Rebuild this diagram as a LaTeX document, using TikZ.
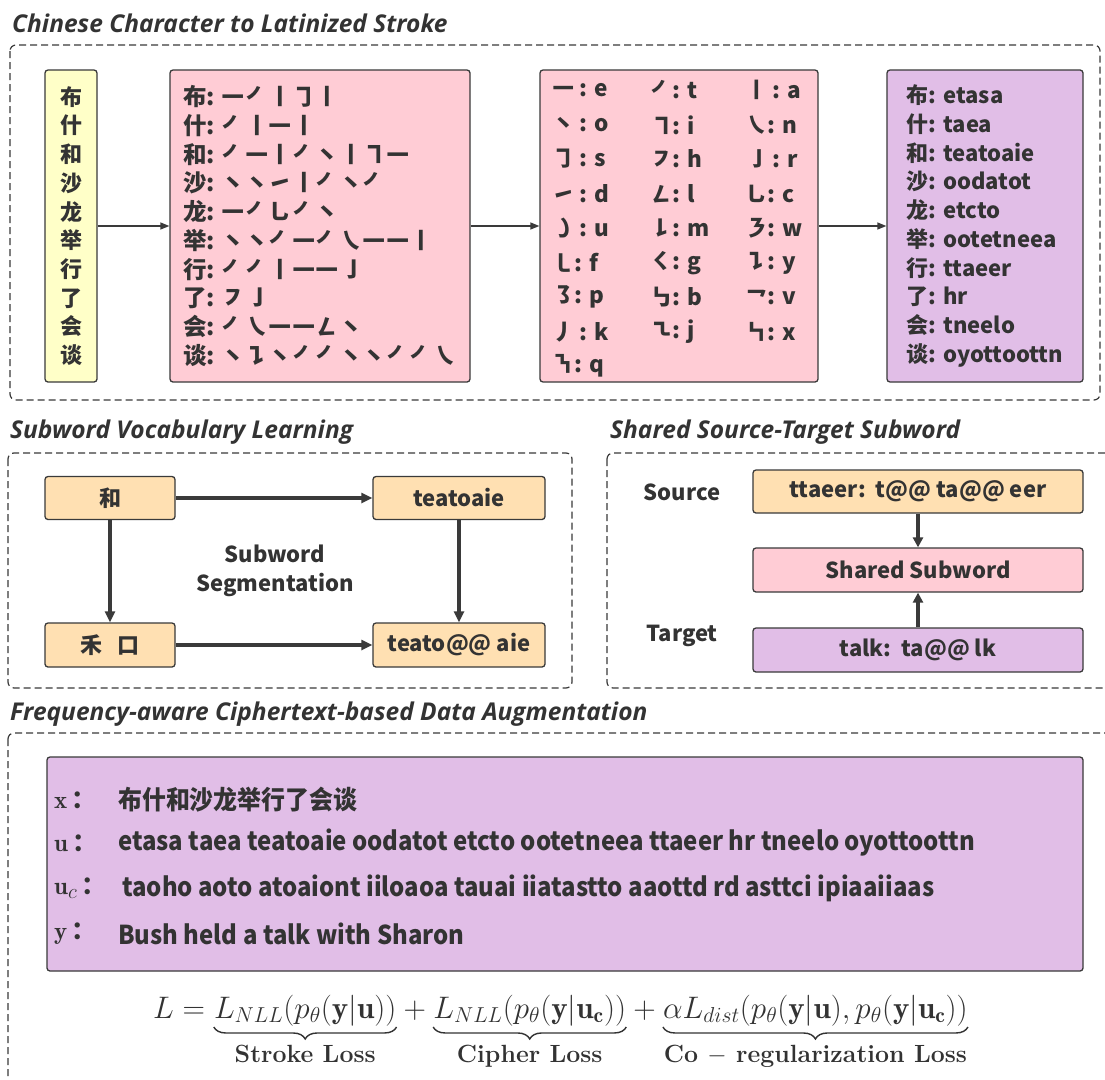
\documentclass[tikz,border=0pt]{standalone}
\usepackage{fontspec}
\usepackage{amsmath}
\usetikzlibrary{arrows.meta,decorations.pathreplacing}
\newfontfamily\cjk{Noto Sans CJK SC}
\newfontfamily\ttl{Open Sans}
\definecolor{txt}{HTML}{333333}
\definecolor{bdr}{HTML}{3A3A3A}
\definecolor{yel}{HTML}{FFFFC8}
\definecolor{pnk}{HTML}{FFCCD5}
\definecolor{prp}{HTML}{E1BEE7}
\definecolor{pch}{HTML}{FFE0B2}
\newcommand{\eqsc}[1]{\scalebox{1.5}{$#1$}}
\tikzset{
  box/.style={draw=bdr, line width=1.3pt, rounded corners=3pt, inner sep=0pt, text=txt},
  dbox/.style={draw=bdr, line width=1.2pt, dash pattern=on 7pt off 4pt, rounded corners=6pt},
  ttlx/.style={anchor=base west, inner sep=0pt, text=txt, font=\ttl\bfseries\itshape\fontsize{24.5}{28}\selectfont},
  zh/.style={text=txt, font=\cjk\bfseries\fontsize{22}{28.7}\selectfont},
  zhb/.style={text=txt, font=\cjk\bfseries\fontsize{23.5}{28.7}\selectfont},
  lbl/.style={text=txt, font=\cjk\bfseries\fontsize{22}{29}\selectfont, inner sep=0pt},
  arrone/.style={draw=bdr, line width=1.3pt, -{Triangle[length=9pt,width=7pt]}},
  arrtwo/.style={draw=bdr, line width=3.5pt, -{Triangle[length=11pt,width=10pt]}},
  arrthree/.style={draw=bdr, line width=3.2pt, -{Triangle[length=10pt,width=10pt]}},
  ent/.style={anchor=west, inner sep=0pt, text=txt, font=\cjk\bfseries\fontsize{22.5}{26}\selectfont},
  row/.style={anchor=west, inner sep=0pt, text=txt, font=\cjk\bfseries\fontsize{26}{30}\selectfont},
  rlab/.style={anchor=west, inner sep=0pt, text=txt, font=\fontsize{24.88}{30}\selectfont},
  eqf/.style={anchor=base west, inner sep=0pt, text=txt, font=\fontsize{20.74}{24}\selectfont},
  brc/.style={draw=txt, line width=1.4pt, decorate, decoration={brace, mirror, amplitude=12pt}},
  blab/.style={anchor=base, inner sep=0pt, text=txt, font=\fontsize{24.88}{28}\selectfont\bfseries},
}
\begin{document}
\begin{tikzpicture}[x=1pt,y=-1pt]
\clip (0,0) rectangle (1105,1079);
\fill[white] (0,0) rectangle (1105,1079);

% ---------- Section 1 ----------
\node[ttlx] (t1) at (12,32) {Chinese Character to Latinized Stroke};
\draw[dbox] (10,45) rectangle (1100,400);

\node[box, fill=yel, minimum width=52pt, minimum height=312pt, zh, align=center] (yb) at (71,226)
  {布\\什\\和\\沙\\龙\\举\\行\\了\\会\\谈};

\node[box, fill=pnk, minimum width=300pt, minimum height=312pt, zhb, align=left] (pk) at (320,226)
  {布: ㇐㇒㇑㇆㇑\\什: ㇒㇑㇐㇑\\和: ㇒㇐㇑㇒㇔㇑㇕㇐\\沙: ㇔㇔㇀㇑㇒㇔㇒\\龙: ㇐㇒㇟㇒㇔\\举: ㇔㇔㇒㇐㇒㇏㇐㇐㇑\\行: ㇒㇒㇑㇐㇐㇚\\了: ㇇㇚\\会: ㇒㇏㇐㇐㇜㇔\\谈: ㇔㇊㇔㇒㇒㇔㇔㇒㇒㇏};

\node[box, fill=pnk, minimum width=278pt, minimum height=312pt] (st) at (679,226) {};

\node[box, fill=prp, minimum width=196pt, minimum height=312pt, zh, align=left] (lt) at (985,226)
  {布: etasa\\什: taea\\和: teatoaie\\沙: oodatot\\龙: etcto\\举: ootetneea\\行: ttaeer\\了: hr\\会: tneelo\\谈: oyottoottn};

\draw[arrone] (yb.east) -- (pk.west);
\draw[arrone] (pk.east) -- (st.west);
\draw[arrone] (st.east) -- (lt.west);

% stroke table
\node[ent] (s11) at (552,90) {㇐ : e};
\node[ent] (s12) at (650,90) {㇒: t};
\node[ent] (s13) at (745,90) {㇑ : a};
\node[ent] (s21) at (552,125) {㇔ : o};
\node[ent] (s22) at (650,125) {㇕: i};
\node[ent] (s23) at (745,125) {㇏: n};
\node[ent] (s31) at (552,159) {㇆ : s};
\node[ent] (s32) at (650,159) {㇇: h};
\node[ent] (s33) at (745,159) {㇚ : r};
\node[ent] (s41) at (552,194) {㇀ : d};
\node[ent] (s42) at (650,194) {㇜: l};
\node[ent] (s43) at (745,194) {㇟: c};
\node[ent] (s51) at (552,228) {㇁ : u};
\node[ent] (s52) at (650,228) {㇙: m};
\node[ent] (s53) at (745,228) {㇋: w};
\node[ent] (s61) at (552,263) {㇄: f};
\node[ent] (s62) at (650,263) {㇛: g};
\node[ent] (s63) at (745,263) {㇊: y};
\node[ent] (s71) at (552,297) {㇌: p};
\node[ent] (s72) at (650,297) {㇉: b};
\node[ent] (s73) at (745,297) {㇖: v};
\node[ent] (s81) at (552,332) {㇓ : k};
\node[ent] (s82) at (650,332) {㇍: j};
\node[ent] (s83) at (745,332) {㇞: x};
\node[ent] (s91) at (552,366) {㇎: q};

% ---------- Section 2 ----------
\node[ttlx] (t2) at (10,438) {Subword Vocabulary Learning};
\draw[dbox] (8,453) rectangle (572,688);
\node[box, fill=pch, minimum width=130pt, minimum height=43pt, lbl] (he) at (110,498) {和};
\node[box, fill=pch, minimum width=172pt, minimum height=43pt, lbl] (te) at (459,498) {teatoaie};
\node[box, fill=pch, minimum width=130pt, minimum height=44pt, lbl] (hk) at (110,645) {禾\hspace{16pt}口};
\node[box, fill=pch, minimum width=172pt, minimum height=44pt, lbl] (ta) at (459,645) {teato@@ aie};
\node[lbl, align=center] (seg) at (275,571) {Subword\\Segmentation};
\draw[arrtwo] (he.east) -- (te.west);
\draw[arrtwo] (he.south) -- (hk.north);
\draw[arrtwo] (te.south) -- (ta.north);
\draw[arrtwo] (hk.east) -- (ta.west);

% ---------- Section 3 ----------
\node[ttlx] (t3) at (610,438) {Shared Source-Target Subword};
\draw[dbox] (607,453) rectangle (1112,688);
\node[box, fill=pch, minimum width=330pt, minimum height=43pt, lbl] (src) at (918,491.5) {ttaeer:\ \ t@@ ta@@ eer};
\node[box, fill=pnk, minimum width=330pt, minimum height=44pt, lbl] (sh) at (918,570) {Shared Subword};
\node[box, fill=prp, minimum width=330pt, minimum height=44pt, lbl] (tg) at (918,650) {talk:\ \ ta@@ lk};
\node[lbl] (srcl) at (682,492) {Source};
\node[lbl] (tgl) at (682,636) {Target};
\draw[arrthree] (src.south) -- (sh.north);
\draw[arrthree] (tg.north) -- (sh.south);

% ---------- Section 4 ----------
\node[ttlx] (t4) at (10,720) {Frequency-aware Ciphertext-based Data Augmentation};
\draw[dbox] (8,733) rectangle (1112,1095);
\node[box, fill=prp, minimum width=1036pt, minimum height=214pt] (aug) at (565,864) {};

\node[rlab] (lx) at (54,800) {$\mathbf{x}$\,{\cjk\bfseries ：}};
\node[rlab] (lu) at (54,843) {$\mathbf{u}$\,{\cjk\bfseries ：}};
\node[rlab] (luc) at (54,888) {$\mathbf{u}_c$\,{\cjk\bfseries ：}};
\node[rlab] (ly) at (54,934) {$\mathbf{y}$\,{\cjk\bfseries ：}};
\node[row] (rx) at (118,800) {\scalebox{0.92}[1]{布什和沙龙举行了会谈}};
\node[row] (ru) at (118,843) {\scalebox{0.92}[1]{etasa taea teatoaie oodatot etcto ootetneea ttaeer hr tneelo oyottoottn}};
\node[row] (ruc) at (122,888) {\scalebox{0.92}[1]{taoho aoto atoaiont iiloaoa tauai iiatastto aaottd rd asttci ipiaaiiaas}};
\node[row] (ry) at (118,934) {\scalebox{0.92}[1]{Bush held a talk with Sharon}};

% equation
\node[eqf] (e0) at (153,1018) {\eqsc{L = {}}};
\node[eqf] (e1) at (e0.base east) {\eqsc{L_{NLL}(p_\theta(\mathbf{y}|\mathbf{u}))}};
\node[eqf] (e2) at (e1.base east) {\eqsc{{}+{}}};
\node[eqf] (e3) at (e2.base east) {\eqsc{L_{NLL}(p_\theta(\mathbf{y}|\mathbf{u_c}))}};
\node[eqf] (e4) at (e3.base east) {\eqsc{{}+{}}};
\node[eqf] (e5) at (e4.base east) {\eqsc{\alpha L_{dist}(p_\theta(\mathbf{y}|\mathbf{u}), p_\theta(\mathbf{y}|\mathbf{u_c}))}};
\draw[brc] ([yshift=-1pt]e1.south west) -- ([yshift=-1pt]e1.south east);
\draw[brc] ([yshift=-1pt]e3.south west) -- ([yshift=-1pt]e3.south east);
\draw[brc] ([yshift=-1pt]e5.south west) -- ([yshift=-1pt]e5.south east);
\node[blab] (b1) at (e1.south |- 0,1062) {Stroke Loss};
\node[blab] (b2) at (e3.south |- 0,1062) {Cipher Loss};
\node[blab] (b3) at (e5.south |- 0,1062) {Co $-$ regularization Loss};
\end{tikzpicture}
\end{document}
